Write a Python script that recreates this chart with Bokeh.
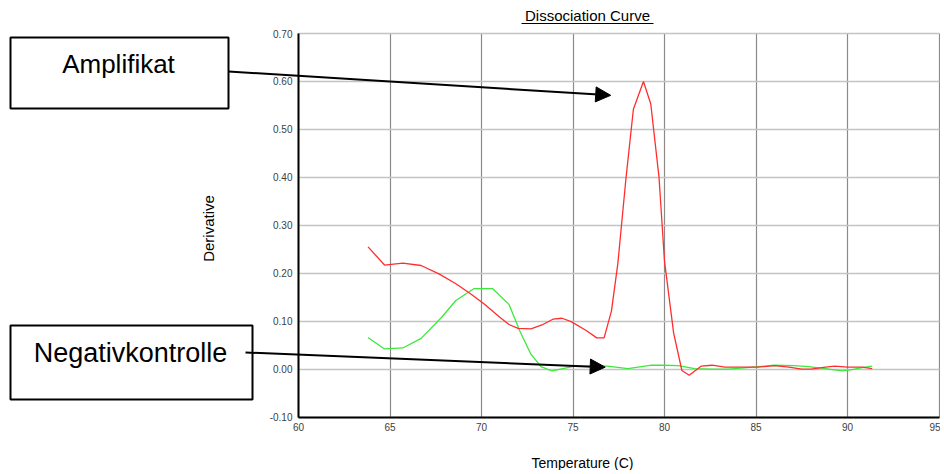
from bokeh.plotting import figure
from bokeh.models import (FixedTicker, Label, Arrow, NormalHead, BoxAnnotation, Range1d)
from bokeh.embed import file_html
from bokeh.resources import INLINE

# ---------------- data ----------------
x_ticks = [60, 65, 70, 75, 80, 85, 90, 95]
y_ticks = [-0.10, 0.0, 0.10, 0.20, 0.30, 0.40, 0.50, 0.60, 0.70]
y_tick_labels = ["-0.10", "0.00", "0.10", "0.20", "0.30", "0.40", "0.50", "0.60", "0.70"]

amp_temp = [63.8, 64.7, 65.7, 66.7, 67.7, 68.6, 69.4, 70.2, 71.0, 71.5, 72.0, 72.7,
            73.3, 73.9, 74.4, 74.9, 75.7, 76.3, 76.7, 77.1, 77.45, 77.9, 78.3, 78.85,
            79.25, 79.7, 80.0, 80.5, 80.95, 81.35, 82.0, 82.6, 83.3, 84.2, 85.1, 86.0,
            86.8, 87.5, 88.0, 88.8, 89.3, 90.0, 90.8, 91.35]
amp_deriv = [0.255, 0.217, 0.221, 0.216, 0.198, 0.178, 0.157, 0.134, 0.108, 0.093, 0.085, 0.084,
             0.092, 0.104, 0.106, 0.099, 0.081, 0.065, 0.065, 0.121, 0.220, 0.400, 0.542, 0.600,
             0.553, 0.400, 0.225, 0.075, -0.003, -0.013, 0.006, 0.008, 0.004, 0.004, 0.004, 0.007,
             0.004, 0.000, 0.000, 0.004, 0.006, 0.004, 0.004, 0.001]

neg_temp = [63.8, 64.7, 65.7, 66.7, 67.8, 68.6, 69.6, 70.6, 71.5, 72.1, 72.7, 73.25,
            73.85, 74.45, 75.1, 76.0, 76.9, 78.0, 79.3, 79.85, 80.75, 81.65, 82.55, 83.45,
            84.2, 85.1, 86.0, 87.1, 87.85, 88.8, 89.7, 90.25, 90.8, 91.35]
neg_deriv = [0.066, 0.042, 0.044, 0.064, 0.107, 0.143, 0.168, 0.168, 0.135, 0.079, 0.031, 0.005,
             -0.004, 0.001, 0.006, 0.006, 0.006, 0.001, 0.008, 0.008, 0.007, 0.001, 0.000, 0.000,
             0.002, 0.005, 0.008, 0.007, 0.005, 0.001, -0.004, -0.001, 0.003, 0.006]

x_min, x_max = 60, 95
y_min, y_max = -0.10, 0.70

title_text = "Dissociation Curve"
x_label = "Temperature (C)"
y_label = "Derivative"
amp_label = "Amplifikat"
neg_label = "Negativkontrolle"
amp_arrow_tip = (77.06, 0.571)
neg_arrow_tip = (76.76, 0.004)

FONT = "Liberation Sans"

# ---------------- layout (pixels) ----------------
W, H = 940, 470
PX_L, PX_R = 298.0, 938.5     # plot rectangle left/right on canvas
PY_T, PY_B = 33.0, 416.5      # plot rectangle top/bottom on canvas

kx = (PX_R - PX_L) / (x_max - x_min)
ky = (PY_B - PY_T) / (y_max - y_min)
xr = Range1d(x_min - PX_L / kx, x_max + (W - PX_R) / kx)
yr = Range1d(y_min - (H - PY_B) / ky, y_max + PY_T / ky)


def sy(py):
    return H - py


p = figure(width=W, height=H, min_border=0, title=None, x_range=xr, y_range=yr,
           output_backend="svg", toolbar_location=None,
           background_fill_color="white", border_fill_color="white")
p.outline_line_color = None

# axes at fixed locations
p.xaxis.fixed_location = y_min
p.yaxis.fixed_location = x_min
p.xaxis.bounds = (x_min, x_max)
p.yaxis.bounds = (y_min, y_max)
for ax in (p.xaxis[0], p.yaxis[0]):
    ax.axis_line_color = "black"
    ax.axis_line_width = 2
    ax.major_tick_out = 0
    ax.major_tick_in = 0
    ax.minor_tick_out = 0
    ax.minor_tick_in = 0
    ax.major_label_text_font = FONT
    ax.major_label_text_font_size = "10px"
    ax.major_label_text_color = "#404040"
    ax.major_label_standoff = 6

p.xaxis.ticker = FixedTicker(ticks=x_ticks)
p.yaxis.ticker = FixedTicker(ticks=y_ticks)
p.yaxis.major_label_overrides = {t: l for t, l in zip(y_ticks, y_tick_labels)}

p.xgrid.ticker = FixedTicker(ticks=x_ticks)
p.ygrid.ticker = FixedTicker(ticks=y_ticks)
p.xgrid.cross_bounds = (y_min, y_max)
p.ygrid.cross_bounds = (x_min, x_max)
p.xgrid.grid_line_color = "#8a8a8a"
p.xgrid.grid_line_width = 1.2
p.ygrid.grid_line_color = "#c4c4c4"
p.ygrid.grid_line_width = 1.6

# curves
p.line(neg_temp, neg_deriv, line_color="#3de83d", line_width=1.3)
p.line(amp_temp, amp_deriv, line_color="#ff2e2e", line_width=1.3)

# title with underline
p.add_layout(Label(x=587, y=sy(15), x_units="screen", y_units="screen", text=title_text,
                   text_font=FONT, text_font_size="15px", text_color="black",
                   text_align="center", text_baseline="middle"))
p.add_layout(Arrow(start=None, end=None, x_start=521, y_start=sy(23), x_end=653, y_end=sy(23),
                   start_units="screen", end_units="screen", line_color="black", line_width=1))

# axis titles
p.add_layout(Label(x=582, y=sy(462), x_units="screen", y_units="screen", text=x_label,
                   text_font=FONT, text_font_size="14px", text_color="black",
                   text_align="center", text_baseline="middle"))
p.add_layout(Label(x=208, y=sy(228), x_units="screen", y_units="screen", text=y_label,
                   text_font=FONT, text_font_size="15px", text_color="black",
                   text_align="center", text_baseline="middle", angle=1.5707963))

# annotation boxes
p.add_layout(BoxAnnotation(left=10, right=228, top=sy(37), bottom=sy(108),
                           left_units="screen", right_units="screen",
                           top_units="screen", bottom_units="screen",
                           fill_color=None, fill_alpha=0, line_color="black", line_width=2,
                           line_alpha=1))
p.add_layout(Label(x=118, y=sy(63), x_units="screen", y_units="screen", text=amp_label,
                   text_font=FONT, text_font_size="26px", text_color="black",
                   text_align="center", text_baseline="middle"))

p.add_layout(BoxAnnotation(left=10, right=252, top=sy(325), bottom=sy(399),
                           left_units="screen", right_units="screen",
                           top_units="screen", bottom_units="screen",
                           fill_color=None, fill_alpha=0, line_color="black", line_width=2,
                           line_alpha=1))
p.add_layout(Label(x=130, y=sy(352), x_units="screen", y_units="screen", text=neg_label,
                   text_font=FONT, text_font_size="27px", text_color="black",
                   text_align="center", text_baseline="middle"))

# arrows
p.add_layout(Arrow(end=NormalHead(size=15, fill_color="black", line_color="black"),
                   x_start=228, y_start=sy(71), start_units="screen",
                   x_end=amp_arrow_tip[0], y_end=amp_arrow_tip[1], end_units="data",
                   line_color="black", line_width=2))
p.add_layout(Arrow(end=NormalHead(size=15, fill_color="black", line_color="black"),
                   x_start=245, y_start=sy(352), start_units="screen",
                   x_end=neg_arrow_tip[0], y_end=neg_arrow_tip[1], end_units="data",
                   line_color="black", line_width=2))

open("out.html", "w").write(file_html(p, INLINE))
